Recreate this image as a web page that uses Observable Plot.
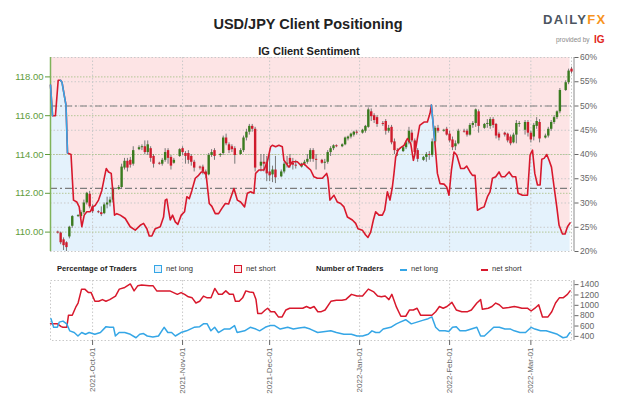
<!DOCTYPE html>
<html><head><meta charset="utf-8">
<script src="https://cdn.jsdelivr.net/npm/d3@7"></script>
<script src="https://cdn.jsdelivr.net/npm/@observablehq/plot@0.6"></script>
<style>
body{margin:0;background:#fff;font-family:"Liberation Sans",Arial,sans-serif;}
#root{position:relative;width:624px;height:416px;overflow:hidden;background:#fff;}
.abs{position:absolute;}
.abs svg{display:block;overflow:visible;}
</style></head><body><div id="root"></div>
<script>
// ---------- DATA ----------
// x positions are days after 2021-09-16 (UTC)
const dayZero = Date.UTC(2021, 8, 16);
const monthTickLabels = ["2021-10-01","2021-11-01","2021-12-01","2022-01-01","2022-02-01","2022-03-01"];
const priceTicks = [110, 112, 114, 116, 118];
const pctTicks = [20, 25, 30, 35, 40, 45, 50, 55, 60];
const countTicks = [400, 600, 800, 1000, 1200, 1400];
const refLevels = [50, 33];

// candle sessions: Sun-Fri, 2021-09-19 .. 2022-03-15
const candleFirst = "2021-09-19", candleLast = "2022-03-15";
const candleOpen = [110.00,109.95,109.60,109.45,109.75,110.30, 110.80,110.80,111.00,111.50,111.95,111.30, 111.05,111.00,110.95,111.40,111.50,111.65, 112.20,112.30,113.30,113.65,113.70,113.50, 114.25,114.35,114.40,114.10,114.30,113.90, 113.55,113.50,113.70,114.20,113.85,113.55, 113.90,114.30,114.05,114.05,113.90,113.60, 113.35,113.35,113.10,112.95,113.95,114.20, 113.95,114.05,114.85,114.50,114.40,114.30, 114.00,114.20,114.85,115.15,115.45,115.30, 113.40,113.60,113.60,113.10,112.95,113.20, 112.85,113.10,113.50,113.80,113.55,113.45, 113.35,113.50,113.60,113.75,114.20,113.75, 113.70,113.55,113.60,114.10,114.30,114.45, 114.40,114.50,114.80,114.90,115.00,115.15, 115.10,115.20,115.40,116.20,116.00,115.90, 115.60,115.70,115.20,115.40,114.65,114.20, 114.15,114.35,114.60,115.10,114.70,114.20, 113.70,113.85,114.00,113.95,114.65,115.35, 115.20,115.30,115.05,114.75,114.40,114.55, 115.20,115.20,115.00,115.50,115.60,116.20, 115.35,115.55,115.45,115.80,115.55,115.05, 115.10,115.05,114.90,114.60,115.00,115.55, 115.25,115.65,115.10,114.90,115.45,115.65, 114.85,114.95,115.30,115.65,115.90,116.20, 117.30,117.70,118.40];
const candleHigh = [110.05,110.00,109.70,109.50,110.30,110.85, 110.90,111.10,111.65,112.05,112.10,111.40, 111.10,111.30,111.50,111.80,111.80,112.30, 112.40,113.50,113.80,113.80,113.85,114.40, 114.45,114.50,114.70,114.70,114.40,114.00, 113.60,113.80,114.30,114.30,113.95,113.80, 114.30,114.40,114.15,114.20,114.00,113.70, 113.40,113.45,113.20,114.05,114.25,114.30, 114.05,114.95,115.05,114.60,114.50,114.40, 114.30,114.95,115.30,115.55,115.55,115.40, 114.00,114.00,113.90,114.00,113.40,113.90, 113.20,113.60,113.90,114.00,113.80,113.70, 113.55,113.70,114.00,114.30,114.30,114.00, 113.75,113.75,114.20,114.40,114.50,114.50, 114.55,114.90,114.95,115.10,115.20,115.25, 115.30,115.50,116.40,116.35,116.10,116.00, 115.70,115.80,115.50,115.50,114.80,114.30, 114.40,114.70,115.40,115.25,114.80,114.30, 113.90,114.10,114.15,114.80,115.45,115.50, 115.30,115.40,115.20,114.90,114.70,115.30, 115.30,115.30,115.60,115.70,116.35,116.30, 115.60,115.80,115.90,115.90,115.60,115.15, 115.15,115.10,115.00,115.10,115.75,115.70, 115.75,115.75,115.20,115.60,115.90,115.80, 115.05,115.40,115.75,116.00,116.25,117.40, 117.80,118.40,118.50];
const candleLow = [109.90,109.35,109.05,109.00,109.65,110.20, 110.75,110.70,110.90,111.40,111.20,110.95, 110.95,110.80,110.90,111.20,111.30,111.50, 112.15,112.20,113.20,113.10,113.30,113.40, 114.20,114.20,114.00,113.95,113.60,113.30, 113.45,113.40,113.60,113.50,113.20,113.50, 113.85,113.95,113.50,113.50,113.40,113.10, 113.20,112.95,112.75,112.90,113.85,113.70, 113.85,113.95,114.45,114.05,114.10,113.50, 113.95,114.10,114.70,115.00,115.15,113.10, 113.10,113.10,112.60,112.60,112.55,112.50, 112.80,113.00,113.30,113.30,113.20,113.25, 113.30,113.40,113.50,113.60,113.60,113.20, 113.50,113.20,113.50,113.90,114.20,114.35, 114.35,114.45,114.70,114.80,114.90,115.00, 115.05,115.10,115.35,115.70,115.60,115.40, 115.45,115.00,115.10,114.50,114.00,113.90, 114.10,114.25,114.50,114.60,113.95,113.60, 113.65,113.60,113.70,113.85,114.55,115.10, 115.15,114.95,114.60,114.20,114.20,114.50, 115.10,114.90,114.95,115.35,115.40,115.10, 115.30,115.35,115.30,115.35,114.80,114.70, 114.90,114.60,114.45,114.55,114.55,115.40, 115.00,114.90,114.60,114.70,115.30,114.60, 114.80,114.85,115.20,115.55,115.80,116.10, 117.25,117.60,118.15];
const candleClose = [109.95,109.45,109.30,109.20,110.25,110.80, 110.85,111.00,111.50,112.00,111.30,111.05, 111.00,110.90,111.40,111.50,111.65,112.20, 112.30,113.35,113.65,113.30,113.45,114.20, 114.35,114.40,114.10,114.50,113.80,113.50, 113.50,113.70,114.10,113.80,113.40,113.70, 114.25,114.10,113.90,113.70,113.60,113.30, 113.30,113.10,112.95,113.95,114.10,113.90, 114.00,114.85,114.55,114.20,114.25,113.95, 114.20,114.85,115.15,115.45,115.30,113.30, 113.60,113.50,113.00,112.90,113.20,112.80, 113.10,113.50,113.55,113.50,113.45,113.40, 113.50,113.60,113.75,114.20,113.75,113.70, 113.55,113.60,114.10,114.30,114.45,114.40, 114.50,114.85,114.90,115.05,115.15,115.10, 115.25,115.45,116.30,115.95,115.75,115.55, 115.55,115.20,115.35,114.60,114.20,114.15, 114.35,114.60,115.20,114.70,114.10,113.75, 113.85,114.00,113.95,114.65,115.35,115.20, 115.25,115.00,114.70,114.35,114.55,115.20, 115.15,115.00,115.50,115.60,116.30,115.45, 115.55,115.60,115.80,115.50,114.95,114.85, 115.00,114.70,114.55,115.00,115.60,115.60, 115.65,115.10,114.75,115.50,115.70,114.80, 114.95,115.30,115.65,115.90,116.20,117.30, 117.70,118.30,118.25];

// IG client sentiment: % of traders net long
const sentDay = [0.5,1.2,2.2,3.15,3.95,4.46,5.33,5.84,6.36,7.57, 8.43,9.57,10.39,11.29,12.12,13.01,14.19,14.98,15.91,17.05, 18.18,19.11,19.7,20.49,21.42,21.98,22.56,23.35,24.53,26.25, 27.97,29.7,31.42,32.56,33.7,34.52,35.42,36.59,38.31,39.45, 40.04,40.59,41.18,41.76,42.55,43.49,44.38,45.55,46.69,47.48, 48.31,49.21,50.38,51.52,52.45,53.24,54.1,55.2,56.1,57.27, 58.41,59.55,60.72,61.86,63.69,64.86,66,67.37,68.3,69.44, 70.58,71.17,72.3,74.03,75.2,76.34,76.92,78.06,79.2,80.37, 80.92,82.64,83.82,85.54,86.68,87.82,88.99,90.12,91.26,92.43, 94.16,95.64,96.09,96.78,98.16,99.33,100.47,101.6,102.78,104.5, 105.64,106.43,107.95,109.08,109.88,110.81,111.74,112.53,113.67,114.84, 115.63,116.56,117.46,118.29,118.84,119.43,120.22,121.15,122.29,123.46, 124.6,125.53,125.98,126.91,127.7,129.18,130.35,131.25,131.73,132.87, 133.8,134.7,136.07,137,137.8,138.63,139.52,140.45,141.83,142.97, 143.9,145.04,145.87,146.77,147.59,148.73,149.87,151.04,151.93,152.76, 153.9,155.04,155.87,157.01,158.49,159.66,160.8,161.6,163.11,164.84, 165.73,166.56,167.35,168.28,169.18,169.76,170.55,171.48,172.27,173.1, 174,174.93,175.72,176.89,177.79,178.61,179.51];
const sentPct = [54.3,48.0,48.0,55.3,55.3,54.9,51.9,50.2,40.3,40.0, 30.6,30.2,29.2,25.1,27.5,28.2,28.2,29.2,29.5,30.6, 32.6,35.4,37.1,36.4,36.1,32.3,27.5,27.8,27.5,26.8, 25.1,24.4,25.4,25.8,24.7,23.2,23.2,24.7,25.1,27.1, 30.6,30.8,28.5,26.5,27.5,26.1,25.6,27.5,28.2,31.3, 30.9,32.6,35.1,35.7,36.4,36.4,35.9,29.9,29.3,27.8, 27.8,28.9,29.9,29.8,33.0,30.6,30.2,29.2,32.0,32.3, 32.0,36.1,36.8,36.8,38.5,41.6,41.9,41.6,41.9,41.6, 38.8,37.4,38.5,38.5,37.8,38.1,37.4,36.8,35.4,35.1, 35.1,36.1,35.1,30.6,31.6,30.2,29.9,29.2,27.1,26.5, 25.8,24.7,24.4,23.4,22.9,24.0,26.5,28.2,27.5,27.5, 28.5,32.3,30.6,33.3,36.1,39.5,40.9,41.4,41.9,43.3, 42.3,38.8,39.9,43.3,46.0,46.7,46.7,48.5,50.2,42.9, 36.1,34.0,33.9,33.3,31.6,36.8,40.5,39.9,37.1,37.1, 37.6,36.4,35.7,35.7,28.5,28.9,29.2,31.3,32.3,35.1, 35.4,36.4,35.4,35.4,36.4,35.4,35.4,32.0,31.6,31.6, 39.9,40.9,36.1,33.7,33.7,39.0,39.2,40.0,38.8,37.4, 33.3,29.2,25.4,23.6,23.6,25.1,25.9];
// point-index ranges of the line drawn in the "net long" colour
const sentLongRuns = [[0, 1], [4, 8], [128, 129]];

// number of traders
const longDay = [0.67,1.57,2.86,3.5,4.8,6.09,7.12,8.67,9.96,11.25, 12.54,13.83,15.77,17.7,19.64,20.93,22.22,22.86,24.15,26.09, 28.02,29.96,31.25,32.54,33.83,35.77,37.7,39.64,40.93,42.22, 43.51,45.45,47.38,48.67,49.96,51.9,53.19,54.48,55.77,57.06, 58.35,60.29,62.22,63.9,64.8,67.38,69.32,71.26,72.55,74.48, 76.03,77.71,79.65,82.23,84.16,86.1,88.03,89.97,92.55,95.13, 97.07,99,101.58,104.16,106.1,108.03,109.97,111.26,112.55,113.84, 115.13,117.71,119.65,120.94,122.87,124.81,126.75,128.69,130.62,131.91, 133.2,134.49,136.43,137.72,139.01,140.3,141.59,143.53,145.46,147.39, 148.68,149.98,151.27,153.2,155.14,157.07,159.01,160.3,162.23,164.17, 166.11,167.4,169.33,171.27,173.21,175.14,177.08,178.37,179,179.5];
const longCount = [742,575,575,675,695,642,507,474,407,474, 440,474,440,474,588,575,575,407,474,474, 440,373,440,454,407,387,407,575,474,474, 407,474,507,541,575,588,642,642,507,575, 474,541,541,608,474,507,575,541,507,575, 608,608,541,575,541,561,575,541,474,494, 507,474,440,440,407,407,440,507,474,474, 541,575,642,675,722,642,675,709,742,776, 575,507,507,494,575,588,507,507,541,575, 407,407,474,575,575,541,541,507,474,474, 575,541,507,507,474,440,373,387,440,474];
const shortDay = [0.5,2.9,4.2,4.8,6.1,6.7,8,9.3,10,11.2, 12.3,13.6,14.5,15.8,17.1,18.4,19.6,20.9,22.9,24.2, 26.1,28,29.3,30.6,31.9,34.5,35.8,37.1,39.6,41.6, 42.9,44.2,45.5,46.7,48,49.3,50.6,51.9,53.2,54.5, 55.8,57.1,58.4,59.6,60.9,62.2,63.5,64.2,65.5,66.7, 67.8,69.1,70.4,71.3,71.9,73.2,74.5,75.3,76.4,77.7, 79,80.3,81.6,82.9,84.8,87.4,88.7,90,91.3,92.6, 93.8,95.1,97.1,99,100.9,102.2,104.2,106.1,108,110, 111.9,113.2,114.5,115.8,117.1,118.1,119.7,121.2,122.9,124.2, 125.5,126.8,128,130,131.9,133.2,134.5,135.8,137.1,138.8, 140.3,142.2,144.2,145.5,147.4,148.7,149.3,151.3,152.6,153.9, 155.1,156.4,158.4,160.3,161.6,162.9,164.8,166.1,167.4,168.7, 170,171.9,173.2,174.5,175.8,177.1,178.6,179.5];
const shortCount = [642,642,588,575,575,809,809,977,1044,1313, 1313,1246,1246,1078,1078,1111,1078,1111,1179,1313, 1346,1413,1279,1380,1393,1380,1380,1279,1279,1279, 1246,1212,1246,1212,1165,1145,1044,1078,1179,1145, 1145,1326,1212,1212,1279,1212,1212,1078,1078,1145, 1279,1259,1246,1111,843,843,910,944,877,877, 776,776,910,944,944,944,977,944,977,877, 877,910,1078,1098,1098,1111,1212,1179,1179,1313, 1259,1179,1165,1179,1111,1212,964,789,789,910, 910,944,809,809,809,877,977,944,977,1058, 910,877,877,910,1044,1111,923,944,977,1044, 1011,944,957,977,964,944,944,890,944,1011, 776,776,877,1044,1145,1145,1212,1279];

// ---------- BUILD ----------
const toDate = n => new Date(dayZero + n * 864e5);
const xDomain = [toDate(0.5), toDate(180)];
const monthTicks = monthTickLabels.map(s => new Date(s + "T00:00:00Z"));
const candleDates = d3.utcDay.range(new Date(candleFirst + "T00:00:00Z"), d3.utcDay.offset(new Date(candleLast + "T00:00:00Z"), 1)).filter(d => d.getUTCDay() !== 6);
const candles = candleDates.map((date, i) => ({date, open: candleOpen[i], high: candleHigh[i], low: candleLow[i], close: candleClose[i]}));
const sent = sentDay.map((n, i) => ({date: toDate(n), pct: sentPct[i], i}));
const sentLong = sentLongRuns.flatMap((r, k) => sent.slice(r[0], r[1] + 1).map(d => ({...d, run: k})));
const longs = longDay.map((n, i) => ({date: toDate(n), v: longCount[i]}));
const shorts = shortDay.map((n, i) => ({date: toDate(n), v: shortCount[i]}));

const C = {pink: "#fde4e5", sky: "#e4f2fc", red: "#d8182c", blue: "#35a6e6", green: "#3a7b1f", cred: "#cf1b2c", grid: "#c9c9c9", pgrid: "#b3c795", axisGreen: "#5e9c3c", dash: "#7d7d7d"};

const root = document.getElementById("root");
function place(el, left, topPx) { const d = document.createElement("div"); d.className = "abs"; d.style.left = left + "px"; d.style.top = topPx + "px"; d.appendChild(el); root.appendChild(d); return d; }
function html(s, css) { const d = document.createElement("div"); d.innerHTML = s; d.style.cssText = "position:absolute;white-space:nowrap;" + css; root.appendChild(d); return d; }

const topOpts = {width: 624, height: 220, marginTop: 17, marginBottom: 9, marginLeft: 50, marginRight: 53,
  x: {type: "utc", domain: xDomain, axis: null}, style: {background: "transparent", fontFamily: "Liberation Sans, Arial, sans-serif"}};

// layer 1: percentage fills, grid, reference lines, right axis
place(Plot.plot({...topOpts, y: {domain: [20, 60], axis: null},
  marks: [
    Plot.areaY(sent, {x: "date", y1: "pct", y2: 60, fill: C.pink}),
    Plot.areaY(sent, {x: "date", y1: 20, y2: "pct", fill: C.sky}),
    Plot.ruleY(pctTicks, {stroke: C.grid, strokeDasharray: "1.5,2"}),
    Plot.ruleX(monthTicks, {stroke: C.grid, strokeDasharray: "1.5,2"}),
    Plot.ruleX([xDomain[1]], {stroke: C.grid, strokeDasharray: "1.5,2"}),
    Plot.ruleY(refLevels, {stroke: C.dash, strokeDasharray: "7,3,2,3", strokeWidth: 1.2}),
    Plot.ruleX([xDomain[1]], {y1: 20, y2: 60, stroke: "#8a8a8a", dx: 2.5}),
    Plot.axisY({anchor: "right", label: null, ticks: pctTicks, tickFormat: d => d + "%", tickSize: 4, tickPadding: 2, dx: 2.5, fontSize: 8.5, color: "#666"})
  ]}), 0, 40);

// layer 2: price candles and left axis
place(Plot.plot({...topOpts, y: {domain: [109, 119], axis: null},
  marks: [
    Plot.ruleY(priceTicks, {stroke: C.pgrid, strokeDasharray: "1.5,1.5"}),
    Plot.ruleX(candles, {x: "date", y1: "low", y2: "high", stroke: "#777", strokeWidth: 1}),
    Plot.ruleX(candles, {filter: d => d.close >= d.open, x: "date", y1: "open", y2: "close", stroke: C.green, strokeWidth: 2.4}),
    Plot.ruleX(candles, {filter: d => d.close < d.open, x: "date", y1: "open", y2: "close", stroke: C.cred, strokeWidth: 2.4}),
    Plot.ruleX([xDomain[0]], {y1: 109, y2: 119, stroke: "#7fb35a", strokeWidth: 1.5}),
    Plot.axisY({anchor: "left", label: null, ticks: priceTicks, tickFormat: d => d.toFixed(2), tickSize: 5, tickPadding: 2, fontSize: 9.5, color: C.axisGreen})
  ]}), 0, 40);

// layer 3: sentiment line
place(Plot.plot({...topOpts, y: {domain: [20, 60], axis: null},
  marks: [
    Plot.line(sent, {x: "date", y: "pct", stroke: C.red, strokeWidth: 1.6}),
    Plot.line(sentLong, {x: "date", y: "pct", z: "run", stroke: C.blue, strokeWidth: 1.6})
  ]}), 0, 40);

// bottom panel: number of traders
place(Plot.plot({width: 624, height: 118, marginTop: 10, marginBottom: 48, marginLeft: 50, marginRight: 53,
  x: {type: "utc", domain: xDomain, axis: null}, y: {domain: [320, 1480], axis: null},
  style: {background: "transparent", fontFamily: "Liberation Sans, Arial, sans-serif"},
  marks: [
    Plot.frame({stroke: C.grid, strokeDasharray: "1.5,2"}),
    Plot.ruleX(monthTicks, {stroke: C.grid, strokeDasharray: "1.5,2"}),
    Plot.line(shorts, {x: "date", y: "v", stroke: C.red, strokeWidth: 1.5}),
    Plot.line(longs, {x: "date", y: "v", stroke: C.blue, strokeWidth: 1.5}),
    Plot.ruleX([xDomain[1]], {stroke: "#8a8a8a", dx: 2.5}),
    Plot.axisY({anchor: "right", label: null, ticks: countTicks, tickSize: 4, tickPadding: 2, dx: 2.5, fontSize: 8.5, color: "#666", tickFormat: d => String(d)}),
    Plot.axisX({label: null, ticks: monthTicks, tickFormat: d3.utcFormat("%Y-%b-%d"), tickRotate: -90, tickSize: 5, tickPadding: 2, fontSize: 8, color: "#666"})
  ]}), 0, 270);

// titles & logo
html("USD/JPY Client Positioning", "left:0;width:616px;top:16px;text-align:center;font-weight:bold;font-size:14.5px;color:#222;");
html("IG Client Sentiment", "left:0;width:618px;top:45px;text-align:center;font-weight:bold;font-size:11px;color:#222;");
html('<span style="color:#4b5561">DA<span style="font-weight:normal">I</span>LY</span><span style="color:#f7941d">FX</span>', "left:543px;top:12px;font-weight:bold;font-size:13px;letter-spacing:1.3px;");
html('<span style="font-size:6.5px;color:#888;vertical-align:middle">provided by</span> <span style="font-size:10px;font-weight:bold;color:#e1251b;vertical-align:middle">IG</span>', "left:556px;top:30px;");

// legend
const lgFont = "font-size:7.6px;";
html("Percentage of Traders", `top:264px;left:57px;${lgFont}font-weight:bold;color:#222;`);
html("", `top:265px;left:154px;width:6px;height:6px;border:1.5px solid ${C.blue};background:${C.sky};`);
html("net long", `top:264px;left:166px;${lgFont}color:#333;`);
html("", `top:265px;left:234px;width:6px;height:6px;border:1.5px solid ${C.red};background:${C.pink};`);
html("net short", `top:264px;left:246px;${lgFont}color:#333;`);
html("Number of Traders", `top:264px;left:316px;${lgFont}font-weight:bold;color:#222;`);
html("", `top:269px;left:400px;width:7px;height:2px;background:${C.blue};`);
html("net long", `top:264px;left:411px;${lgFont}color:#333;`);
html("", `top:269px;left:481px;width:7px;height:2px;background:${C.red};`);
html("net short", `top:264px;left:492px;${lgFont}color:#333;`);
</script></body></html>
